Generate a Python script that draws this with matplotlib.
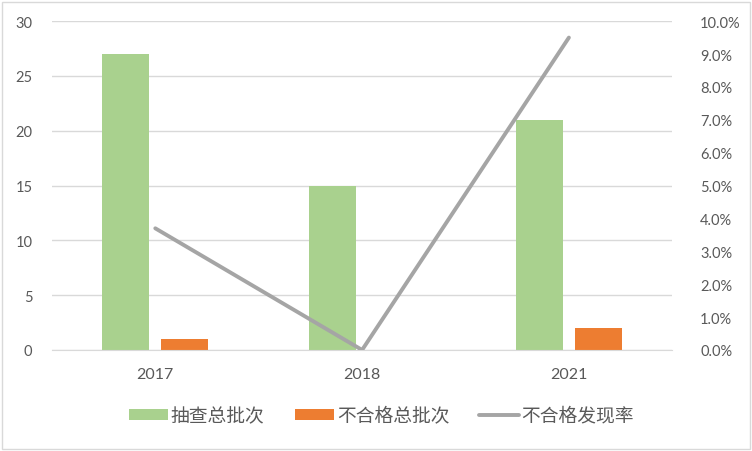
import matplotlib.pyplot as plt
import numpy as np
from matplotlib.patches import Rectangle

plt.rcParams['font.family'] = ['Lato', 'Noto Sans CJK SC', 'DejaVu Sans']

years = ["2017", "2018", "2021"]
total_batches = [27, 15, 21]
failed_batches = [1, 0, 2]
fail_rate = [3.7, 0.0, 9.5]

GREEN = "#a9d18e"
ORANGE = "#ed7d31"
GRAY = "#a5a5a5"
GRID = "#d9d9d9"
TEXT = "#595959"

fig = plt.figure(figsize=(7.52, 4.52), dpi=100)
ax = fig.add_axes([0.069, 0.2235, 0.825, 0.7275])
ax2 = ax.twinx()

x = np.arange(len(years))
w = 0.227
b1 = ax.bar(x - 0.142, total_batches, w, color=GREEN, label="抽查总批次", zorder=2)
b2 = ax.bar(x + 0.142, failed_batches, w, color=ORANGE, label="不合格总批次", zorder=2)
l1, = ax2.plot(x, fail_rate, color=GRAY, lw=2.8, label="不合格发现率", solid_capstyle="round")

ax.set_xlim(-0.5, 2.5)
ax.set_ylim(0, 30)
ax.set_yticks(range(0, 31, 5))
ax2.set_ylim(0, 10)
ax2.set_yticks(np.arange(0, 10.1, 1))
ax2.set_yticklabels([f"{v:.1f}%" for v in np.arange(0, 10.1, 1)])

ax.set_xticks(x)
ax.set_xticklabels(years)
ax.yaxis.grid(True, color=GRID, lw=1, zorder=0)
ax.set_axisbelow(True)

for a in (ax, ax2):
    for s in a.spines.values():
        s.set_visible(False)
    a.tick_params(length=0, colors=TEXT, labelsize=10.5)
ax.spines["bottom"].set_visible(True)
ax.spines["bottom"].set_color(GRID)
ax.tick_params(axis="y", pad=14)
ax.tick_params(axis="x", pad=12, labelsize=11.5)
ax2.tick_params(axis="y", pad=20)

fig.legend(handles=[b1, b2, l1], loc="center", bbox_to_anchor=(0.507, 0.08),
           ncol=3, frameon=False, fontsize=13.5, labelcolor=TEXT,
           handlelength=2.1, handleheight=0.55, handletextpad=0.15, columnspacing=1.6)

fig.patches.append(Rectangle((0.003, 0.004), 0.994, 0.99, transform=fig.transFigure,
                             fill=False, edgecolor=GRID, lw=1))

fig.savefig("out.png", dpi=100)
